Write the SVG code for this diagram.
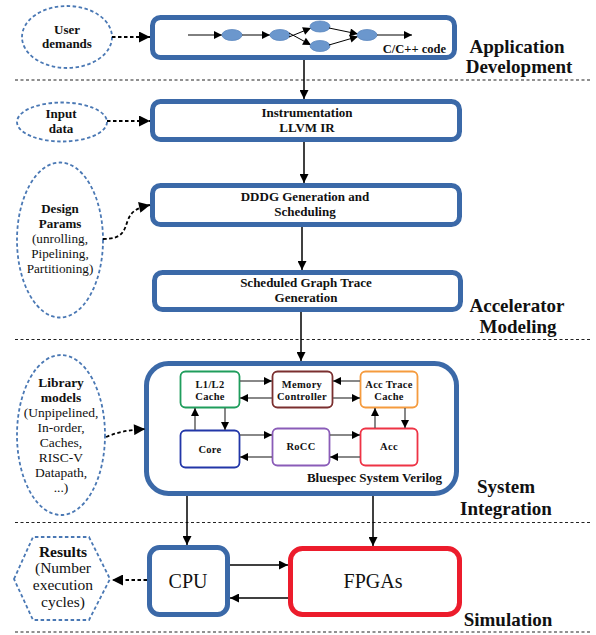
<svg xmlns="http://www.w3.org/2000/svg" width="596" height="635" viewBox="0 0 596 635">
  <style>
    .bg { fill: #ffffff; }
    .blue { fill: #ffffff; stroke: #3b69a8; stroke-width: 5; }
    .red { fill: #ffffff; stroke: #ec1c2c; stroke-width: 5; }
    .dashed { fill: #ffffff; stroke: #4a78b4; stroke-width: 1.8; stroke-dasharray: 3.5 2.5; }
    .sep { stroke: #222; stroke-width: 1.2; stroke-dasharray: 3 2.5; fill: none; }
    .conn { stroke: #000; stroke-width: 1.5; fill: none; }
    .dconn { stroke: #000; stroke-width: 1.8; stroke-dasharray: 3.5 2.5; fill: none; }
    .inner { stroke: #555; stroke-width: 1.4; fill: none; }
    .thin { stroke: #000; stroke-width: 1; fill: none; }
    .dot { fill: #6b97cd; stroke: #5a86bf; stroke-width: 0.8; }
    .sub { fill: #ffffff; stroke-width: 1.8; }
    text { font-family: "Liberation Serif", "Times New Roman", serif; fill: #111; }
    .b13 { font-size: 13px; font-weight: bold; text-anchor: middle; }
    .r13 { font-size: 13.2px; text-anchor: middle; }
    .b11 { font-size: 10.5px; font-weight: bold; text-anchor: middle; letter-spacing: 0.3px; }
    .stage { font-size: 19px; font-weight: bold; text-anchor: middle; }
    .big { font-size: 20px; text-anchor: middle; }
    .res { font-size: 15.5px; text-anchor: middle; }
  </style>
  <defs>
    <marker id="ah" viewBox="0 0 10 10" refX="10" refY="5" markerWidth="13" markerHeight="9" markerUnits="userSpaceOnUse" orient="auto">
      <path d="M0,0 L10,5 L0,10 z" fill="#000"/>
    </marker>
    <marker id="ahd" viewBox="0 0 10 10" refX="10" refY="5" markerWidth="14" markerHeight="11" markerUnits="userSpaceOnUse" orient="auto">
      <path d="M0,0 L10,5 L0,10 z" fill="#000"/>
    </marker>
    <marker id="ahi" viewBox="0 0 10 10" refX="10" refY="5" markerWidth="11" markerHeight="8" markerUnits="userSpaceOnUse" orient="auto">
      <path d="M0,0 L10,5 L0,10 z" fill="#000"/>
    </marker>
    <marker id="ahs" viewBox="0 0 10 10" refX="10" refY="5" markerWidth="10" markerHeight="8" markerUnits="userSpaceOnUse" orient="auto">
      <path d="M0,0 L10,5 L0,10 z" fill="#000"/>
    </marker>
  </defs>

  <rect class="bg" x="0" y="0" width="596" height="635"/>

  <!-- stage separators -->
  <g id="separators">
    <line class="sep" x1="15" y1="80" x2="592" y2="80"/>
    <line class="sep" x1="15" y1="339.5" x2="592" y2="339.5"/>
    <line class="sep" x1="15" y1="522.5" x2="592" y2="522.5"/>
    <line class="sep" x1="15" y1="632" x2="592" y2="632"/>
  </g>

  <!-- stage titles -->
  <g id="stage-labels">
    <text class="stage" x="517" y="53">Application</text>
    <text class="stage" x="519" y="73">Development</text>
    <text class="stage" x="517" y="312">Accelerator</text>
    <text class="stage" x="518" y="333">Modeling</text>
    <text class="stage" x="506" y="493">System</text>
    <text class="stage" x="506" y="515">Integration</text>
    <text class="stage" x="508" y="626">Simulation</text>
  </g>

  <!-- application development -->
  <g id="user-demands">
    <ellipse class="dashed" cx="67" cy="37" rx="45" ry="31"/>
    <text class="b13" x="67" y="34">User</text>
    <text class="b13" x="67" y="48">demands</text>
  </g>
  <g id="app-code">
    <rect class="blue" x="152.5" y="17.5" width="302" height="40" rx="8"/>
    <line class="thin" x1="188" y1="35" x2="222" y2="35" marker-end="url(#ahs)"/>
    <ellipse class="dot" cx="232" cy="35" rx="10" ry="5.5"/>
    <line class="thin" x1="242" y1="35" x2="270" y2="35" marker-end="url(#ahs)"/>
    <ellipse class="dot" cx="280" cy="35" rx="10" ry="5.5"/>
    <line class="thin" x1="289" y1="37" x2="311" y2="28" marker-end="url(#ahs)"/>
    <line class="thin" x1="289" y1="33" x2="311" y2="45" marker-end="url(#ahs)"/>
    <ellipse class="dot" cx="320" cy="26.5" rx="10" ry="5.5"/>
    <ellipse class="dot" cx="320" cy="46" rx="10" ry="5.5"/>
    <line class="thin" x1="329" y1="28" x2="358" y2="34" marker-end="url(#ahs)"/>
    <line class="thin" x1="329" y1="45" x2="358" y2="36.5" marker-end="url(#ahs)"/>
    <ellipse class="dot" cx="367" cy="35" rx="10" ry="5.5"/>
    <line class="thin" x1="377" y1="35" x2="412" y2="35" marker-end="url(#ahs)"/>
    <text x="446" y="53" style="font-size:12.5px;font-weight:bold;text-anchor:end">C/C++ code</text>
  </g>

  <!-- accelerator modeling -->
  <g id="input-data">
    <ellipse class="dashed" cx="62" cy="122" rx="45" ry="19.5"/>
    <text class="b13" x="61" y="118">Input</text>
    <text class="b13" x="61" y="133">data</text>
  </g>
  <g id="instrumentation">
    <rect class="blue" x="152.5" y="101.5" width="307" height="38" rx="8"/>
    <text class="b13" x="307" y="117">Instrumentation</text>
    <text class="b13" x="307" y="132">LLVM IR</text>
  </g>
  <g id="design-params">
    <ellipse class="dashed" cx="60" cy="240" rx="43" ry="77.5"/>
    <text class="b13" x="60" y="213">Design</text>
    <text class="b13" x="60" y="228">Params</text>
    <text class="r13" x="60" y="243">(unrolling,</text>
    <text class="r13" x="60" y="258">Pipelining,</text>
    <text class="r13" x="60" y="273">Partitioning)</text>
  </g>
  <g id="dddg">
    <rect class="blue" x="152.5" y="185.5" width="307" height="39" rx="8"/>
    <text class="b13" x="305" y="201">DDDG Generation and</text>
    <text class="b13" x="305" y="216">Scheduling</text>
  </g>
  <g id="graph-trace">
    <rect class="blue" x="154.5" y="272.5" width="306" height="37" rx="8"/>
    <text class="b13" x="306" y="287">Scheduled Graph Trace</text>
    <text class="b13" x="306" y="302">Generation</text>
  </g>

  <!-- system integration -->
  <g id="library-models">
    <ellipse class="dashed" cx="61" cy="435" rx="44" ry="80"/>
    <text class="b13" x="61" y="387" style="font-size:13.5px">Library</text>
    <text class="b13" x="61" y="402" style="font-size:13.5px">models</text>
    <text class="r13" x="61" y="417" style="font-size:13.5px">(Unpipelined,</text>
    <text class="r13" x="61" y="432" style="font-size:13.5px">In-order,</text>
    <text class="r13" x="61" y="447" style="font-size:13.5px">Caches,</text>
    <text class="r13" x="61" y="462" style="font-size:13.5px">RISC-V</text>
    <text class="r13" x="61" y="477" style="font-size:13.5px">Datapath,</text>
    <text class="r13" x="61" y="492" style="font-size:13.5px">...)</text>
  </g>
  <g id="system">
    <rect class="blue" x="146.5" y="363.5" width="310" height="130" rx="22"/>
    <text x="442" y="482" style="font-size:13px;font-weight:bold;text-anchor:end">Bluespec System Verilog</text>
  </g>
  <g id="l1l2-cache">
    <rect class="sub" x="180.5" y="371.5" width="59" height="36" rx="5" stroke="#1f9d5c"/>
    <text class="b11" x="210" y="388">L1/L2</text>
    <text class="b11" x="210" y="400">Cache</text>
  </g>
  <g id="memory-controller">
    <rect class="sub" x="272.5" y="371.5" width="60" height="36" rx="5" stroke="#7b2f2f"/>
    <text class="b11" x="302" y="388">Memory</text>
    <text class="b11" x="302" y="400">Controller</text>
  </g>
  <g id="acc-trace-cache">
    <rect class="sub" x="360.5" y="371.5" width="57" height="36" rx="5" stroke="#f59b3e"/>
    <text class="b11" x="389" y="388">Acc Trace</text>
    <text class="b11" x="389" y="400">Cache</text>
  </g>
  <g id="core">
    <rect class="sub" x="180.5" y="430.5" width="59" height="37" rx="5" stroke="#2236a8"/>
    <text class="b11" x="210" y="453">Core</text>
  </g>
  <g id="rocc">
    <rect class="sub" x="272.5" y="428.5" width="57" height="37" rx="5" stroke="#8a5cb8"/>
    <text class="b11" x="301" y="450">RoCC</text>
  </g>
  <g id="acc">
    <rect class="sub" x="360.5" y="428.5" width="57" height="37" rx="5" stroke="#ee3345"/>
    <text class="b11" x="389" y="450">Acc</text>
  </g>

  <!-- simulation -->
  <g id="results">
    <polygon class="dashed" points="14,579 33,537 89,537 110,579 89,620 33,620"/>
    <text class="res" x="63" y="557" style="font-weight:bold">Results</text>
    <text class="res" x="63" y="573">(Number</text>
    <text class="res" x="63" y="590">execution</text>
    <text class="res" x="63" y="607">cycles)</text>
  </g>
  <g id="cpu">
    <rect class="blue" x="149.5" y="547.5" width="78" height="67" rx="10"/>
    <text class="big" x="188" y="588">CPU</text>
  </g>
  <g id="fpgas">
    <rect class="red" x="290.5" y="548.5" width="169" height="66" rx="12"/>
    <text class="big" x="373" y="588">FPGAs</text>
  </g>

  <!-- connectors drawn last so they sit above the node fills -->
  <g id="connectors">
    <!-- main flow -->
    <line class="conn" x1="304" y1="60" x2="304" y2="99" marker-end="url(#ah)"/>
    <line class="conn" x1="304" y1="142" x2="304" y2="183" marker-end="url(#ah)"/>
    <line class="conn" x1="302" y1="227" x2="302" y2="270" marker-end="url(#ah)"/>
    <line class="conn" x1="301" y1="312" x2="301" y2="361" marker-end="url(#ah)"/>
    <line class="conn" x1="187" y1="496" x2="187" y2="545" marker-end="url(#ah)"/>
    <line class="conn" x1="373" y1="496" x2="373" y2="546" marker-end="url(#ah)"/>
    <line class="conn" x1="230" y1="565" x2="288" y2="565" marker-end="url(#ah)"/>
    <line class="conn" x1="288" y1="598" x2="230" y2="598" marker-end="url(#ah)"/>
    <!-- side inputs / outputs -->
    <line class="dconn" x1="112" y1="37" x2="150" y2="37" marker-end="url(#ahd)"/>
    <line class="dconn" x1="107" y1="121" x2="150" y2="121" marker-end="url(#ahd)"/>
    <path class="dconn" d="M103,239 C124,239 124,230 128,220 C131,212 136,208 150,205" marker-end="url(#ahd)"/>
    <path class="dconn" d="M106,437 C118,432 128,430 145,429" marker-end="url(#ahd)"/>
    <line class="dconn" x1="147" y1="580" x2="112" y2="580" marker-end="url(#ahd)"/>
    <!-- links inside the system block -->
    <line class="inner" x1="240" y1="381" x2="272" y2="381" marker-end="url(#ahi)"/>
    <line class="inner" x1="272" y1="398" x2="240" y2="398" marker-end="url(#ahi)"/>
    <line class="inner" x1="360" y1="381" x2="333" y2="381" marker-end="url(#ahi)"/>
    <line class="inner" x1="333" y1="398" x2="360" y2="398" marker-end="url(#ahi)"/>
    <line class="inner" x1="195" y1="430" x2="195" y2="408" marker-end="url(#ahi)"/>
    <line class="inner" x1="225" y1="408" x2="225" y2="430" marker-end="url(#ahi)"/>
    <line class="inner" x1="375" y1="428" x2="375" y2="408" marker-end="url(#ahi)"/>
    <line class="inner" x1="405" y1="408" x2="405" y2="428" marker-end="url(#ahi)"/>
    <line class="inner" x1="240" y1="435" x2="272" y2="435" marker-end="url(#ahi)"/>
    <line class="inner" x1="272" y1="457" x2="240" y2="457" marker-end="url(#ahi)"/>
    <line class="inner" x1="330" y1="435" x2="360" y2="435" marker-end="url(#ahi)"/>
    <line class="inner" x1="360" y1="457" x2="330" y2="457" marker-end="url(#ahi)"/>
  </g>
</svg>
